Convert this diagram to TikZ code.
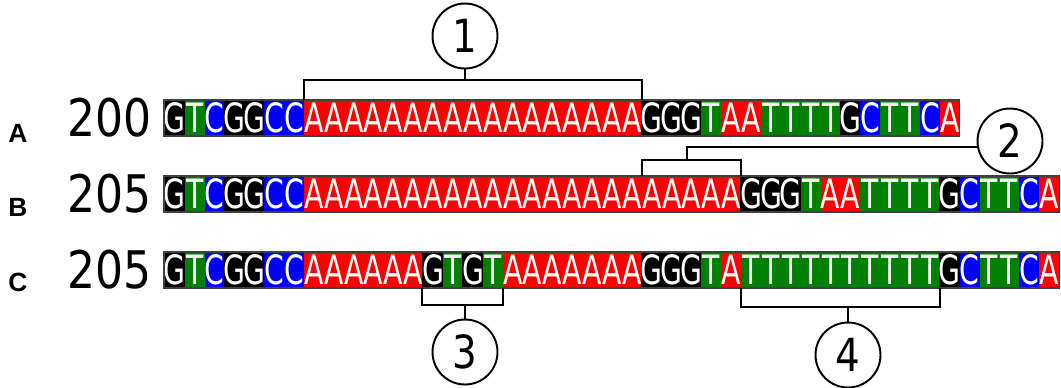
\documentclass[tikz,border=0pt]{standalone}
\usepackage{fontspec}
\usepackage{tikz}
\usetikzlibrary{calc,positioning}
\newfontfamily\seqfont[FakeStretch=0.7]{DejaVu Sans}
\newfontfamily\numfont[FakeStretch=0.85]{DejaVu Sans}
\newfontfamily\rowfont{Liberation Sans}
\definecolor{baseA}{RGB}{255,0,0}
\definecolor{baseC}{RGB}{0,0,255}
\definecolor{baseG}{RGB}{0,0,0}
\definecolor{baseT}{RGB}{0,128,0}

\begin{document}
\begin{tikzpicture}[x=0.02cm,y=-0.02cm]

\tikzset{nuc/.style={rectangle,inner sep=0,outer sep=0,minimum width=0.4cm,minimum height=0.72cm,text=white,font=\seqfont\fontsize{23}{23}\selectfont},
nucA/.style={nuc,fill=baseA}, nucC/.style={nuc,fill=baseC},
nucG/.style={nuc,fill=baseG}, nucT/.style={nuc,fill=baseT},
rowbox/.style={draw=black!75,line width=0.6pt},
numlabel/.style={anchor=east,font=\numfont\fontsize{29.5}{30}\selectfont},
rowlabel/.style={font=\rowfont\bfseries\fontsize{15}{15}\selectfont},
circnum/.style={circle,draw,line width=1.1pt,minimum size=1.3cm,inner sep=0,font=\numfont\fontsize{26}{26}\selectfont},
bracket/.style={line width=1.1pt}}

\useasboundingbox (0,0) rectangle (1061,387);

% Row labels and lengths
\node[rowlabel] (labA) at (18,133) {A};
\node[rowlabel] (labB) at (18,207) {B};
\node[rowlabel] (labC) at (18,282) {C};
\node[numlabel] (lenA) at (158,118) {200};
\node[numlabel] (lenB) at (158,194) {205};
\node[numlabel] (lenC) at (158,270) {205};

% Sequences
\foreach \b [count=\i] in {G,T,C,G,G,C,C,A,A,A,A,A,A,A,A,A,A,A,A,A,A,A,A,A,G,G,G,T,A,A,T,T,T,T,G,C,T,T,C,A}
	\node[nuc\b] (A\i) at ({165+(\i-0.5)*19.87},118) {\b};
\foreach \b [count=\i] in {G,T,C,G,G,C,C,A,A,A,A,A,A,A,A,A,A,A,A,A,A,A,A,A,A,A,A,A,A,G,G,G,T,A,A,T,T,T,T,G,C,T,T,C,A}
	\node[nuc\b] (B\i) at ({165+(\i-0.5)*19.87},194) {\b};
\foreach \b [count=\i] in {G,T,C,G,G,C,C,A,A,A,A,A,A,G,T,G,T,A,A,A,A,A,A,A,G,G,G,T,A,T,T,T,T,T,T,T,T,T,T,G,C,T,T,C,A}
	\node[nuc\b] (C\i) at ({165+(\i-0.5)*19.87},270) {\b};
\foreach \r/\n in {A/40, B/45, C/45}
	\draw[rowbox] (\r1.north west) rectangle (\r\n.south east);

% Circled numbers
\node[circnum] (c1) at (465,36) {1};
\node[circnum] (c2) at (1010,141) {2};
\node[circnum] (c3) at (465,352) {3};
\node[circnum] (c4) at (848,355) {4};

%% Brackets
\coordinate (b1) at (465,80);
\coordinate (b2) at (687,160);
\coordinate (b3) at (465,305);
\coordinate (b4) at (848,307);
\draw[bracket] (A8.north west) |- (b1) -| (A24.north east);
\draw[bracket] (B25.north west) |- (b2) -| (B29.north east);
\draw[bracket] (C14.south west) |- (b3) -| (C17.south east);
\draw[bracket] (C30.south west) |- (b4) -| (C39.south east);
\draw[bracket] (b1) -- (c1);
\draw[bracket] (b2) |- (c2.190);
\draw[bracket] (b3) -- (c3);
\draw[bracket] (b4) -- (c4);
\end{tikzpicture}
\end{document}
